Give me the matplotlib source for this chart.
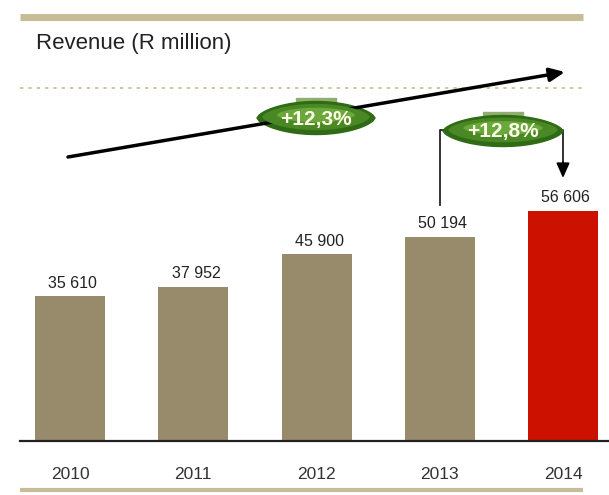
import numpy as np
import matplotlib
matplotlib.use("Agg")
import matplotlib.pyplot as plt
from matplotlib.patches import Polygon, Rectangle

# -------------------------------
# data
# -------------------------------
years = ["2010", "2011", "2012", "2013", "2014"]
revenue = [35610, 37952, 45900, 50194, 56606]
value_labels = ["35 610", "37 952", "45 900", "50 194", "56 606"]
cagr_label = "+12,3%"
yoy_label = "+12,8%"

bar_colors = ["#978b6c"] * 4 + ["#cc1100"]
beige = "#c7bc95"

plt.rcParams["font.family"] = ["Liberation Sans", "DejaVu Sans"]

W, H = 609, 495
fig = plt.figure(figsize=(W / 100, H / 100), dpi=100)

# -------------------------------
# bars
# -------------------------------
ax = fig.add_axes([20 / W, (H - 441) / H, (W - 20) / W, 244 / H])
x = list(range(len(years)))
ax.bar(x, revenue, width=0.568, color=bar_colors)
ax.set_xlim(-0.4057, 4.373)
ax.set_ylim(0, 60000)
for xi, v, lab in zip(x, revenue, value_labels):
    ax.annotate(lab, (xi, v), xytext=(2, 4), textcoords="offset points",
                ha="center", va="bottom", fontsize=11.5, color="#222222")
for s in ["top", "right", "left"]:
    ax.spines[s].set_visible(False)
ax.spines["bottom"].set_linewidth(1.6)
ax.spines["bottom"].set_color("#222222")
ax.set_yticks([])
ax.set_xticks(x)
ax.set_xticklabels(years, fontsize=12.5, color="#333333")
ax.tick_params(axis="x", length=0, pad=19)
ax.patch.set_alpha(0)

# -------------------------------
# overlay for decorations (pixel coordinates)
# -------------------------------
ov = fig.add_axes([0, 0, 1, 1], zorder=5)
ov.set_xlim(0, W)
ov.set_ylim(H, 0)
ov.axis("off")
ov.patch.set_alpha(0)

ov.plot([20, 583], [17, 17], color=beige, lw=5, solid_capstyle="butt")
ov.plot([20, 583], [490, 490], color=beige, lw=3, solid_capstyle="butt")
ov.plot([20, 583], [88, 88], color=beige, lw=1.2, ls=(0, (2, 3)))
ov.text(36, 43, "Revenue (R million)", fontsize=16, color="#222222",
        va="center", ha="left")

# trend arrow
ov.annotate("", xy=(565, 72), xytext=(68, 157),
            arrowprops=dict(arrowstyle="-|>,head_length=0.9,head_width=0.4",
                            color="black", lw=2.5, shrinkA=0, shrinkB=0))

# bracket 2013 -> 2014
ov.plot([440, 440, 563, 563], [205, 130, 130, 165], color="#222222", lw=1.3)
ov.annotate("", xy=(563, 178), xytext=(563, 162),
            arrowprops=dict(arrowstyle="-|>,head_length=0.9,head_width=0.4",
                            color="black", lw=1.3, shrinkA=0, shrinkB=0))


def lens(cx, cy, w, h, color, z):
    t = np.linspace(-1, 1, 60)
    top = h / 2 * (1 - t ** 2) ** 0.65
    xs = np.concatenate([cx + t * w / 2, cx - t * w / 2])
    ys = np.concatenate([cy - top, cy + top[::-1]])
    ov.add_patch(Polygon(np.column_stack([xs, ys]), closed=True, color=color, zorder=z))


def pill(cx, cy, w, h, label):
    ov.add_patch(Rectangle((cx - 0.17 * w, cy - h / 2 - 4), 0.34 * w, 7,
                           color="#8fae6f", zorder=1))
    lens(cx, cy, w, h, "#2f6b14", 2)
    lens(cx, cy - 1, w * 0.9, h * 0.75, "#4a8826", 3)
    lens(cx, cy - 3, w * 0.65, h * 0.4, "#6aa83c", 3)
    ov.text(cx, cy + 1, label, color="#fffbe8", fontsize=15, fontweight="bold",
            ha="center", va="center", zorder=4)


pill(316, 118, 118, 33, cagr_label)
pill(503, 131, 120, 31, yoy_label)

fig.savefig("out.png", dpi=100)
